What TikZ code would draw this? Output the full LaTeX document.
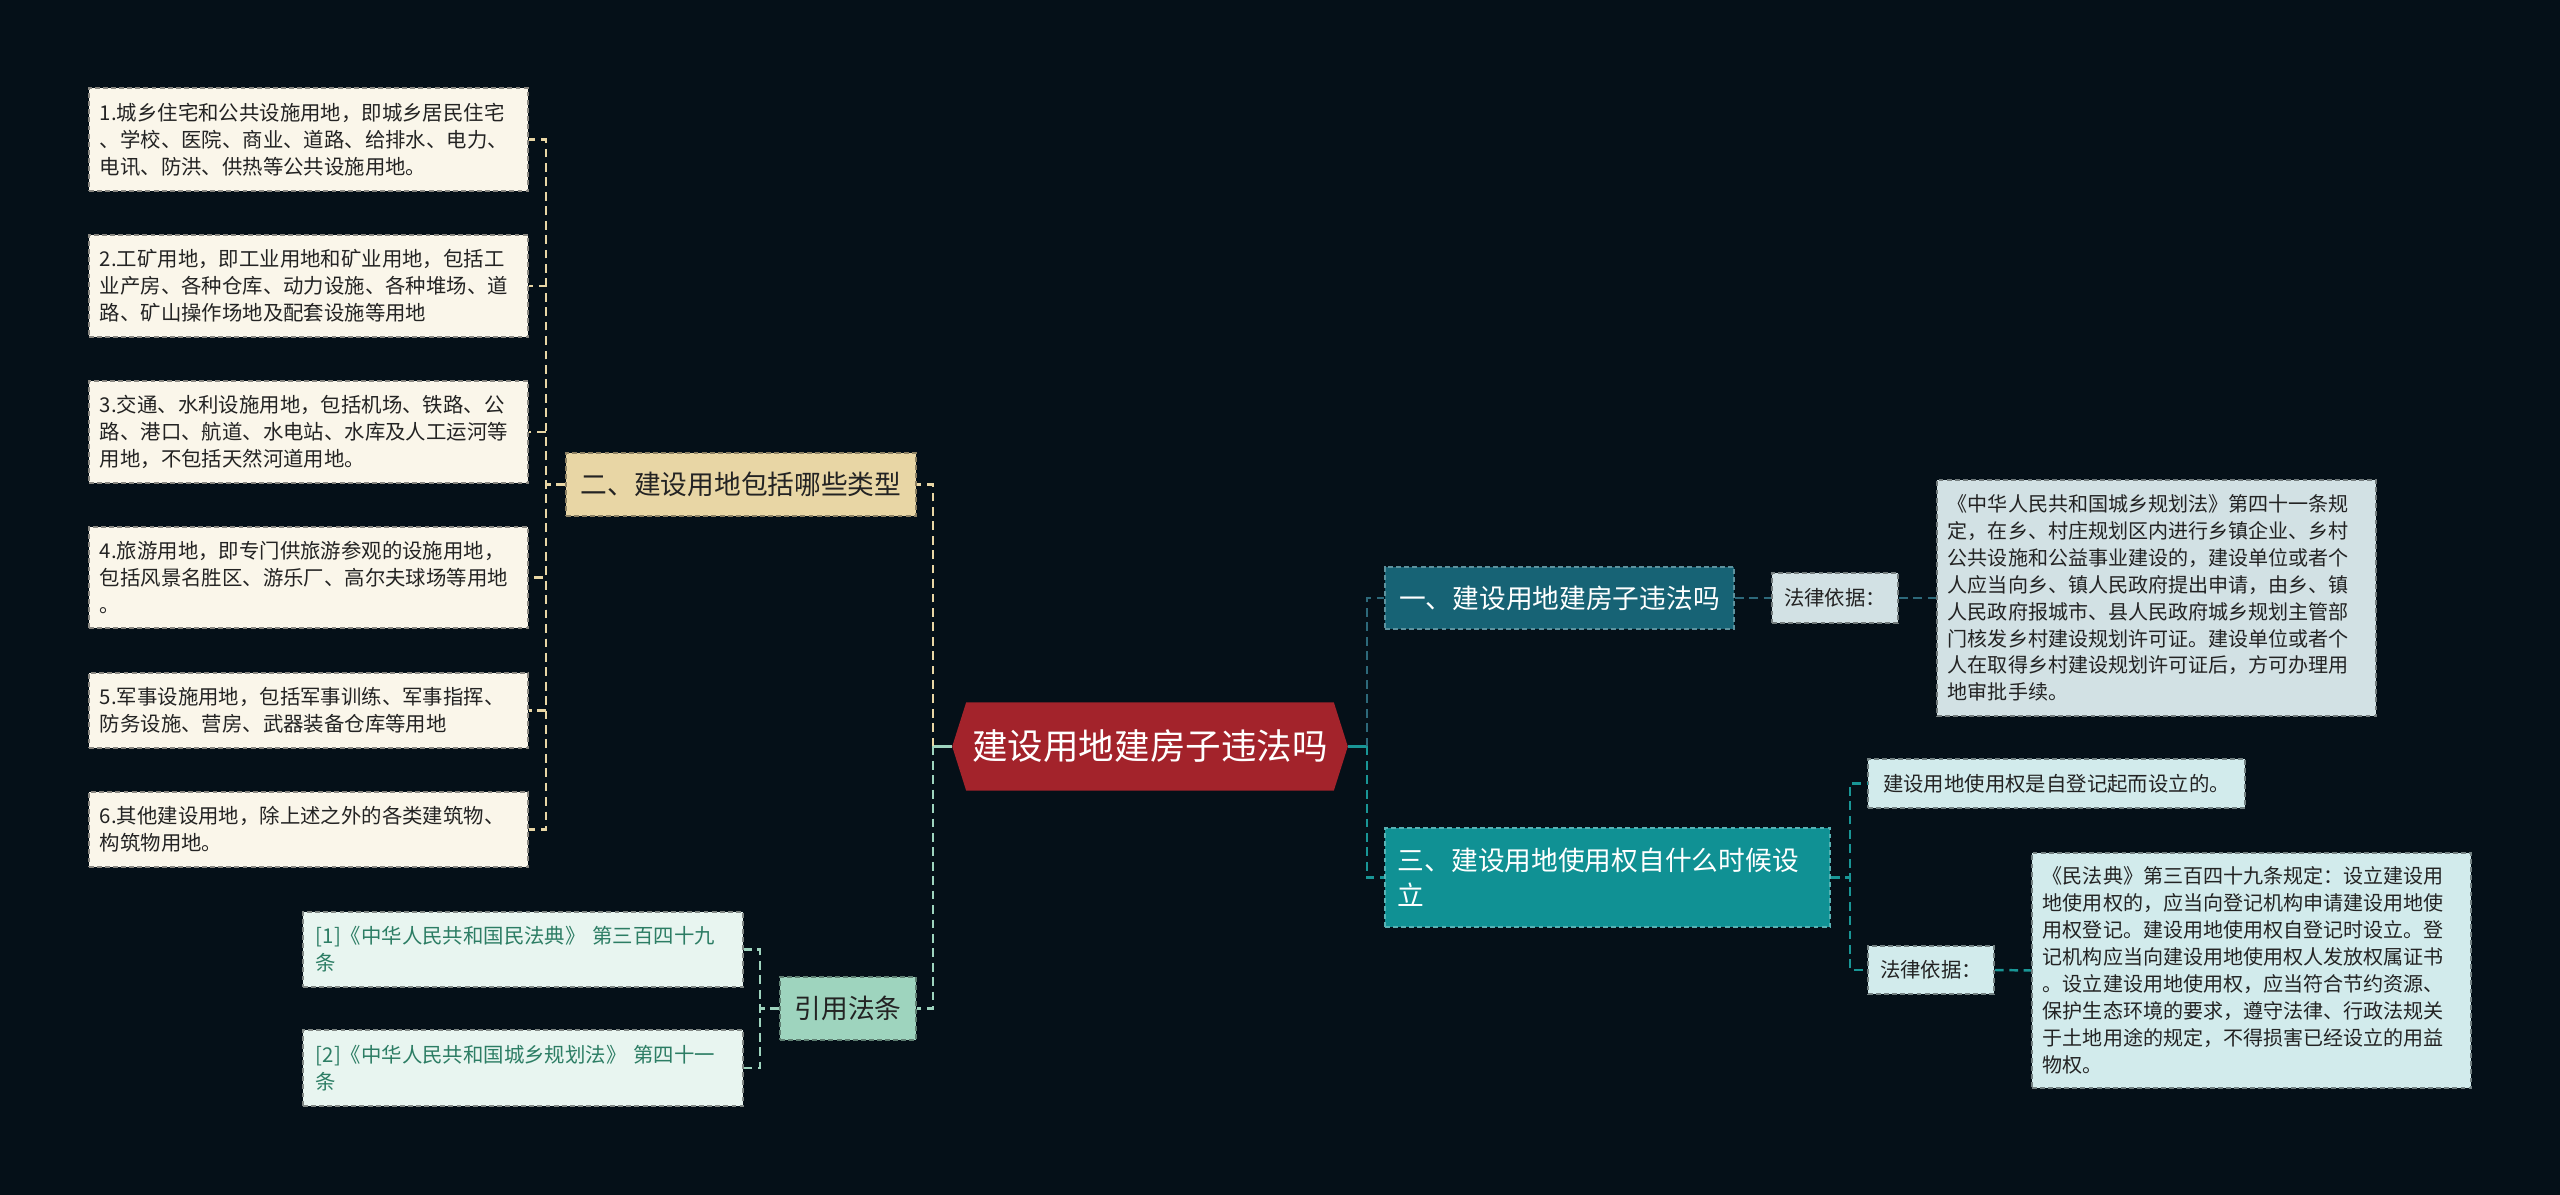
\documentclass[tikz,border=0pt]{standalone}
\usepackage{fontspec}
\setmainfont{Noto Sans CJK SC}
\usetikzlibrary{backgrounds}

\begin{document}
\begin{tikzpicture}[x=0.01cm, y=-0.01cm]
  % Colors
  \definecolor{bgcol}{RGB}{5,16,24}
  \definecolor{rootcol}{RGB}{163,35,43}
  \definecolor{leafcol}{RGB}{250,246,234}
  \definecolor{typecol}{RGB}{232,214,165}
  \definecolor{refcol}{RGB}{158,212,190}
  \definecolor{refleafcol}{RGB}{232,245,240}
  \definecolor{reftextcol}{RGB}{44,125,100}
  \definecolor{onecol}{RGB}{23,99,117}
  \definecolor{onelinecol}{RGB}{45,105,122}
  \definecolor{oneleafcol}{RGB}{210,225,228}
  \definecolor{threecol}{RGB}{16,145,148}
  \definecolor{threelinecol}{RGB}{25,150,150}
  \definecolor{threeleafcol}{RGB}{210,235,236}
  \definecolor{inkcol}{RGB}{35,35,35}
  %
  \tikzset{
    conn/.style={line width=0.7pt, dash pattern=on 2.5pt off 1.6pt},
    stub/.style={line width=0.9pt},
    nodebox/.style={draw, line width=0.45pt, dash pattern=on 1.4pt off 0.9pt,
                    inner xsep=0.11cm, inner ysep=0pt},
    smalltxt/.style={font=\fontsize{5.8}{7.7}\selectfont},
    lawtxt/.style={font=\fontsize{5.7}{7.65}\selectfont},
    bigtxt/.style={font=\fontsize{7.6}{9.96}\selectfont},
    leaf/.style={nodebox, smalltxt, fill=leafcol, draw=leafcol!55!black, text=inkcol,
                 text width=4.17cm, align=left},
    refleaf/.style={nodebox, smalltxt, fill=refleafcol, draw=refleafcol!55!black,
                    text=reftextcol, inner xsep=0.13cm, text width=4.14cm, align=left},
    lawbox/.style={nodebox, lawtxt, text=inkcol, text width=4.17cm, align=left},
    tag/.style={nodebox, smalltxt, text=inkcol, align=center},
    topic/.style={nodebox, bigtxt, align=center},
  }
  %
  % === BACKGROUND ===
  \begin{scope}[on background layer]
    \fill[bgcol] (0,0) rectangle (2560,1195);
  \end{scope}
  %
  % === ROOT ===
  \node[bigtxt, font=\fontsize{10.1}{12}\selectfont, text=white,
        minimum width=3.94cm, minimum height=0.87cm, inner sep=0pt]
        (root) at (1150,746.5) {建设用地建房子违法吗};
  \begin{scope}[on background layer]
    \fill[rootcol] (root.west) -- ([xshift=0.14cm]root.north west)
      -- ([xshift=-0.14cm]root.north east) -- (root.east)
      -- ([xshift=-0.14cm]root.south east) -- ([xshift=0.14cm]root.south west) -- cycle;
  \end{scope}
  %
  % === LEFT: TYPES OF LAND ===
  \node[topic, fill=typecol, draw=typecol!60!black, text=inkcol,
        minimum width=3.5cm, minimum height=0.63cm] (types) at (741,484.5) {二、建设用地包括哪些类型};
  \foreach \n/\y/\h/\txt in {
    1/139.5/1.03/{1.城乡住宅和公共设施用地，即城乡居民住宅\\、学校、医院、商业、道路、给排水、电力、\\电讯、防洪、供热等公共设施用地。},
    2/286/1.02/{2.工矿用地，即工业用地和矿业用地，包括工\\业产房、各种仓库、动力设施、各种堆场、道\\路、矿山操作场地及配套设施等用地},
    3/432/1.02/{3.交通、水利设施用地，包括机场、铁路、公\\路、港口、航道、水电站、水库及人工运河等\\用地，不包括天然河道用地。},
    4/577.5/1.01/{4.旅游用地，即专门供旅游参观的设施用地，\\包括风景名胜区、游乐厂、高尔夫球场等用地\\。},
    5/710.5/0.75/{5.军事设施用地，包括军事训练、军事指挥、\\防务设施、营房、武器装备仓库等用地},
    6/829.5/0.75/{6.其他建设用地，除上述之外的各类建筑物、\\构筑物用地。}%
  } {
    \node[leaf, minimum height=\h cm] (leaf\n) at (308.5,\y) {\txt};
  }
  \foreach \n in {1,...,6} {
    \draw[conn, typecol] (types.west) -- ++(-19,0) |- (leaf\n.east);
  }
  %
  % === LEFT: CITED LAWS ===
  \node[topic, fill=refcol, draw=refcol!60!black, text=inkcol,
        minimum width=1.36cm, minimum height=0.63cm] (cite) at (848,1008.5) {引用法条};
  \node[refleaf, minimum height=0.75cm] (cite1) at (523,949.5) {[1]《中华人民共和国民法典》 第三百四十九\\条};
  \node[refleaf, minimum height=0.76cm] (cite2) at (523,1068) {[2]《中华人民共和国城乡规划法》 第四十一\\条};
  \foreach \n in {1,2} {
    \draw[conn, refcol] (cite.west) -- ++(-19,0) |- (cite\n.east);
  }
  %
  % root -> left topics
  \draw[stub, refcol] (root.west) -- ++(-19,0);
  \draw[conn, typecol] (root.west) ++(-19,0) |- (types.east);
  \draw[conn, refcol] (root.west) ++(-19,0) |- (cite.east);
  %
  % === RIGHT: TOPIC ONE ===
  \node[topic, fill=onecol, draw=onecol!70!white, text=white,
        minimum width=3.49cm, minimum height=0.62cm] (one) at (1559.5,598) {一、建设用地建房子违法吗};
  \node[tag, fill=oneleafcol, draw=oneleafcol!55!black,
        minimum width=1.26cm, minimum height=0.5cm] (basis1) at (1835,598) {法律依据：};
  \node[lawbox, fill=oneleafcol, draw=oneleafcol!55!black, minimum height=2.36cm] (law1) at (2156.5,598)
    {《中华人民共和国城乡规划法》第四十一条规\\定，在乡、村庄规划区内进行乡镇企业、乡村\\公共设施和公益事业建设的，建设单位或者个\\人应当向乡、镇人民政府提出申请，由乡、镇\\人民政府报城市、县人民政府城乡规划主管部\\门核发乡村建设规划许可证。建设单位或者个\\人在取得乡村建设规划许可证后，方可办理用\\地审批手续。};
  \draw[conn, onelinecol] (one.east) -- (basis1.west);
  \draw[conn, onelinecol] (basis1.east) -- (law1.west);
  %
  % === RIGHT: TOPIC THREE ===
  \node[nodebox, bigtxt, fill=threecol, draw=threecol!70!white, text=white, align=left,
        inner xsep=0.13cm, text width=4.19cm, minimum height=0.99cm] (three) at (1607.5,877.5)
    {三、建设用地使用权自什么时候设\\立};
  \node[tag, fill=threeleafcol, draw=threeleafcol!55!black,
        minimum width=3.77cm, minimum height=0.49cm] (when) at (2056.5,783.5) {建设用地使用权是自登记起而设立的。};
  \node[tag, fill=threeleafcol, draw=threeleafcol!55!black,
        minimum width=1.26cm, minimum height=0.48cm] (basis2) at (1931,970) {法律依据：};
  \node[lawbox, fill=threeleafcol, draw=threeleafcol!55!black, minimum height=2.35cm] (law2) at (2251.5,970.5)
    {《民法典》第三百四十九条规定：设立建设用\\地使用权的，应当向登记机构申请建设用地使\\用权登记。建设用地使用权自登记时设立。登\\记机构应当向建设用地使用权人发放权属证书\\。设立建设用地使用权，应当符合节约资源、\\保护生态环境的要求，遵守法律、行政法规关\\于土地用途的规定，不得损害已经设立的用益\\物权。};
  \draw[conn, threelinecol] (three.east) -- ++(19,0) |- (when.west);
  \draw[conn, threelinecol] (three.east) -- ++(19,0) |- (basis2.west);
  \draw[conn, threelinecol] (basis2.east) -- (law2.west);
  %
  % root -> right topics
  \draw[stub, threelinecol] (root.east) -- ++(19,0);
  \draw[conn, onelinecol] (root.east) ++(19,0) |- (one.west);
  \draw[conn, threelinecol] (root.east) ++(19,0) |- (three.west);
  %
\end{tikzpicture}
\end{document}
